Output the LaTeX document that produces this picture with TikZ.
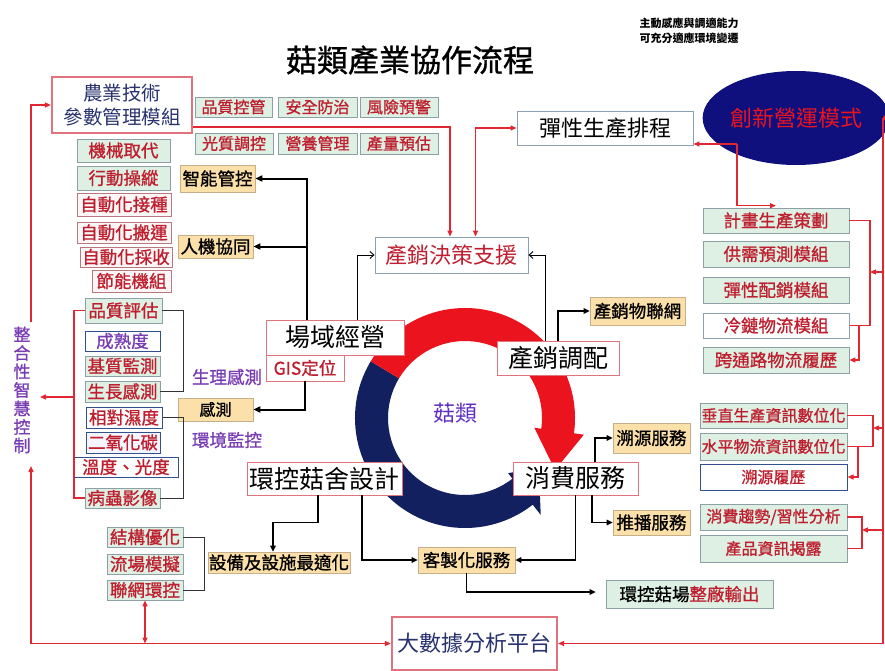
\documentclass[tikz,border=0pt]{standalone}
\usepackage{fontspec}
\setmainfont{Noto Sans CJK TC}
\newfontfamily\semib{Noto Sans CJK TC}[FakeBold=1]
\usetikzlibrary{arrows.meta,shapes.geometric,calc}
\definecolor{tred}{RGB}{190,30,45}
\definecolor{lred}{RGB}{225,40,50}
\definecolor{pinkb}{RGB}{225,115,125}
\definecolor{gfill}{RGB}{222,240,228}
\definecolor{gbord}{RGB}{140,160,165}
\definecolor{pfill}{RGB}{252,224,170}
\definecolor{pbord}{RGB}{200,175,140}
\definecolor{bbord}{RGB}{50,80,140}
\definecolor{purp}{RGB}{120,60,180}
\definecolor{dblue}{RGB}{40,50,110}
\definecolor{navyr}{RGB}{18,32,95}
\definecolor{ringred}{RGB}{235,20,30}
\definecolor{ellb}{RGB}{15,15,125}
\definecolor{wfill}{RGB}{252,246,246}
\definecolor{sbord}{RGB}{140,160,180}
\begin{document}
\begin{tikzpicture}[x=1pt,y=-1pt,
  every node/.style={inner sep=0pt, align=center},
  sz/.style 2 args={minimum width=#1, minimum height=#2},
  fA/.style={font=\semib\fontsize{16}{18}\selectfont},
  fB/.style={font=\semib\fontsize{17.5}{19}\selectfont},
  fC/.style={font=\fontsize{22}{24}\selectfont},
  fD/.style={font=\fontsize{25}{27}\selectfont},
  gtag/.style={draw=gbord, line width=0.7, fill=gfill, text=tred},
  wtag/.style={draw=pinkb!60!gray, line width=0.7, fill=wfill, text=tred},
  btag/.style={draw=bbord, line width=1, fill=white, text=tred},
  ptag/.style={draw=pbord, line width=0.7, fill=pfill, text=black},
  wbox/.style={draw=pinkb, line width=0.8, fill=white, text=black},
  sbox/.style={draw=sbord, line width=0.9, fill=white},
  rl/.style={draw=lred, line width=1.4, -{Triangle[length=6pt,width=5pt]}},
  rlb/.style={draw=lred, line width=1.4},
  bk/.style={draw=black, line width=2, -{Triangle[length=7pt,width=6pt]}},
  bkm/.style={draw=black, line width=1.6, -{Triangle[length=6pt,width=5.5pt]}},
  tk/.style={draw=black, line width=0.9, -{Straight Barb[length=4pt,width=7pt]}},
  br/.style={draw=black!80, line width=0.8}]
\fill[white] (0,0) rectangle (885,671);
\useasboundingbox (0,0) rectangle (885,671);

% ---- ring ----
\coordinate (C) at (465,418);
\fill[navyr] ($(C)+(-149:110)$) arc[start angle=-149,end angle=-308,radius=110]
  -- ($(C)+(-308:123)$) -- ($(C)+(-326:89)$) -- ($(C)+(-308:70)$) -- ($(C)+(-308:77)$)
  arc[start angle=-308,end angle=-149,radius=77] -- cycle;
\fill[ringred] ($(C)+(-149:110)$) arc[start angle=-149,end angle=8,radius=110]
  -- ($(C)+(8:120)$) -- ($(C)+(30:104)$) -- ($(C)+(8:70)$) -- ($(C)+(8:77)$)
  arc[start angle=8,end angle=-149,radius=77] -- cycle;
\node[font=\fontsize{22}{24}\selectfont, text=purp!80!blue] (mush) at (455,413) {菇類};

% ---- title ----
\node[font=\semib\fontsize{31}{34}\selectfont] (title) at (410,60) {菇類產業協作流程};
\node[font=\bfseries\fontsize{11}{15}\selectfont] (note) at (689,31) {主動感應與調適能力\\可充分適應環境變遷};

% ---- top-left ----
\node[draw=pinkb, line width=2.2, fill=white, text=dblue, sz={140}{56}, font=\fontsize{19.5}{24}\selectfont] (agri) at (122,105) {農業技術\\參數管理模組};
\node[gtag, fA, sz={77}{20}] (q1) at (233.5,107) {品質控管};
\node[gtag, fA, sz={79}{20}] (q2) at (317.5,107) {安全防治};
\node[gtag, fA, sz={78}{20}] (q3) at (399,107) {風險預警};
\node[gtag, fA, sz={78}{21}] (q4) at (234,143.5) {光質調控};
\node[gtag, fA, sz={79}{21}] (q5) at (317.5,143.5) {營養管理};
\node[gtag, fA, sz={78}{21}] (q6) at (399,143.5) {產量預估};

\node[gtag, fB, sz={93}{23}] (m1) at (123.5,150.5) {機械取代};
\node[gtag, fB, sz={93}{24}] (m2) at (123.5,178) {行動操縱};
\node[wtag, fB, sz={94}{23}] (m3) at (124,204.5) {自動化接種};
\node[wtag, fB, sz={94}{21}] (m4) at (124,232.5) {自動化搬運};
\node[wtag, fB, sz={92}{20}] (m5) at (126,257) {自動化採收};
\node[wtag, fB, sz={79}{22}] (m6) at (131.5,281) {節能機組};

\node[ptag, fB, sz={75}{27}] (smart) at (217.5,178.5) {智能管控};
\node[ptag, fB, sz={75}{23}] (hm) at (215.5,246.5) {人機協同};

% ---- left middle ----
\node[gtag, fB, sz={77}{25}] (p1) at (123.5,310.5) {品質評估};
\node[btag, fB, sz={75}{20}, text=purp] (p2) at (122.5,341) {成熟度};
\node[gtag, fB, sz={75}{20}] (p3) at (122.5,366) {基質監測};
\node[gtag, fB, sz={75}{21}] (p4) at (122.5,391.5) {生長感測};
\node[btag, fB, sz={76}{21}] (e1) at (124,417.5) {相對濕度};
\node[btag, fB, sz={74}{21}, fill=blue!4] (e2) at (123,442.5) {二氧化碳};
\node[btag, fB, sz={104}{20}] (e3) at (126,467) {溫度、光度};
\node[gtag, fB, sz={75}{20}] (e4) at (122.5,498) {病蟲影像};

\node[ptag, fA, sz={75}{23}] (sense) at (215.5,409.5) {感測};
\node[fB, text=purp] (lb1) at (227,377) {生理感測};
\node[fB, text=purp] (lb2) at (227,440) {環境監控};
\node[font=\semib\fontsize{17}{18.5}\selectfont, text=purp] (integ) at (22,390) {整\\合\\性\\智\\慧\\控\\制};

% ---- center ----
\node[wbox, fD, sz={138}{35}] (field) at (335,337.5) {場域經營};
\node[wbox, fB, sz={78}{26}, text=tred] (gis) at (305,368) {GIS定位};
\node[sbox, fC, sz={153}{36}, text=tred] (dss) at (451.5,255) {產銷決策支援};
\node[sbox, fC, sz={176}{34}] (flex) at (605,128) {彈性生產排程};
\node[ellipse, fill=ellb, text=ringred, fC, minimum width=148, minimum height=94] (innov) at (796,118) {創新營運模式};
\node[ptag, fB, sz={95}{28}] (iot) at (637.5,311) {產銷物聯網};
\node[wbox, fD, sz={122}{34}] (alloc) at (558,358) {產銷調配};
\node[wbox, fD, sz={155}{33}] (design) at (324.5,478.5) {環控菇舍設計};
\node[wbox, fD, sz={125}{33}] (cons) at (575.5,478.5) {消費服務};

% ---- right ----
\node[gtag, fB, sz={146}{25}] (r1) at (776,220.5) {計畫生產策劃};
\node[gtag, fB, sz={146}{26}] (r2) at (776,254) {供需預測模組};
\node[gtag, fB, sz={146}{26}] (r3) at (776,290) {彈性配銷模組};
\node[btag, fB, sz={146}{25}, draw=sbord] (r4) at (776,325.5) {冷鏈物流模組};
\node[gtag, fB, sz={146}{26}] (r5) at (776,360) {跨通路物流履歷};

\node[ptag, fB, sz={77}{30}] (trace) at (651.5,438) {溯源服務};
\node[ptag, fB, sz={77}{25}] (push) at (651.5,522.5) {推播服務};

\node[gtag, fA, sz={147}{25}] (v1) at (773.5,415.5) {垂直生產資訊數位化};
\node[gtag, fA, sz={147}{27}] (v2) at (773.5,446.5) {水平物流資訊數位化};
\node[btag, fA, sz={147}{26}] (v3) at (773.5,477) {溯源履歷};
\node[gtag, fA, sz={147}{26}] (v4) at (773.5,517) {消費趨勢/習性分析};
\node[gtag, fA, sz={147}{27}] (v5) at (773.5,548.5) {產品資訊揭露};

% ---- bottom ----
\node[ptag, fB, sz={97}{26}] (cust) at (466.5,560) {客製化服務};
\node[ptag, fB, sz={142}{21}] (equip) at (279,562.5) {設備及設施最適化};
\node[gtag, fB, sz={167}{28}, text=black] (export) at (689.5,594) {環控菇場\textcolor{tred}{整廠輸出}};
\node[gtag, fB, sz={76}{20}] (b1) at (145,537) {結構優化};
\node[gtag, fB, sz={76}{20}] (b2) at (145,564) {流場模擬};
\node[gtag, fB, sz={76}{20}] (b3) at (145,590) {聯網環控};
\node[draw=pinkb, line width=2.2, fill=white, text=dblue, sz={165}{53}, font=\fontsize{22}{24}\selectfont] (big) at (474.5,643.5) {大數據分析平台};

% ---- coordinates ----
\coordinate (LT) at (31,322);
\coordinate (LB) at (31,466);
\coordinate (LBR) at (74,397);
\coordinate (LAR) at (40,397);
\coordinate (NET) at (145,643.5);
\coordinate (J) at (737,144);
\coordinate (RT) at (883,118);
\coordinate (RB) at (883,643.5);
\coordinate (F1) at ($(field.north)+(-28,0)$);

% ---- red connectors ----
\draw[rl] (LT) |- (agri.west);
\draw[rl, {Triangle[length=6pt,width=5pt]}-{Triangle[length=6pt,width=5pt]}] (LB) |- (big.west);
\draw[rlb] (p1.west) -- (74,310.5) -- (74,498) -- (e4.west);
\draw[rl] (LBR) -- (LAR);
\draw[rl, {Triangle[length=6pt,width=5pt]}-{Triangle[length=6pt,width=5pt]}] (b3.south) -- (NET);
\draw[rl] ($(agri.east)+(0,22)$) -| ($(dss.north)+(-1.5,0)$);
\draw[rl, {Triangle[length=6pt,width=5pt]}-{Triangle[length=6pt,width=5pt]}] ($(dss.north)+(24,0)$) |- (flex.west);
\draw[rl] (J) -- (flex.east |- J);
\draw[rl] (J) |- ($(r1.north)+(0,-2)$);
\draw[rlb, line width=1.1] (RT) -- (RB);
\draw[rl, line width=1.1] (RT) -- (innov.east);
\draw[rl, line width=1.1] (RB) -- (big.east);
\draw[rlb] (r1.east) -- (870,220.5) -- (870,325.5) -- (r4.east);
\draw[rl, line width=1.1] (RT |- 0,272) -- (870,272);
\draw[rl] (859,325.5) |- (r5.east);
\draw[rlb] (v1.east) -- (873,415.5) -- (873,446.5) -- (v2.east);
\draw[rl, line width=1.1] (RT |- 0,428) -- (873,428);
\draw[rl] (858,446.5) |- (v3.east);
\draw[rlb] (v4.east) -- (862,517) -- (862,548.5) -- (v5.east);
\draw[rl, line width=1.1] (RT |- 0,530) -- (862,530);

% ---- black connectors ----
\draw[bk] (F1) |- (smart.east);
\draw[bk] (F1 |- hm.east) -- (hm.east);
\draw[bk] (gis.south) |- (sense.east);
\draw[tk] ($(field.north)+(22,0)$) |- (dss.west);
\draw[tk] ($(alloc.north)+(-13,0)$) |- (dss.east);
\draw[bkm] (alloc.north) |- (iot.west);
\draw[bkm] ($(cons.north)+(19.5,0)$) |- (trace.west);
\draw[bkm] ($(cons.south)+(16.5,0)$) |- (push.west);
\draw[bkm] (cons.south) |- (cust.east);
\draw[bkm] ($(design.south)+(37.5,0)$) |- (cust.west);
\draw[bkm] ($(design.south)+(-6.5,0)$) -- ++(0,27) -| ($(equip.north)+(-6,0)$);
\draw[bkm] (cust.south) |- ($(export.west)+(-10,-2)$);
\draw[br] (p1.east) -- (183,310.5) -- (183,391.5) -- (p4.east);
\draw[br] (e1.east) -- (183,417.5) -- (183,498) -- (e4.east);
\draw[br] (b1.east) -- (204,537) -- (204,590) -- (b3.east);
\end{tikzpicture}
\end{document}
